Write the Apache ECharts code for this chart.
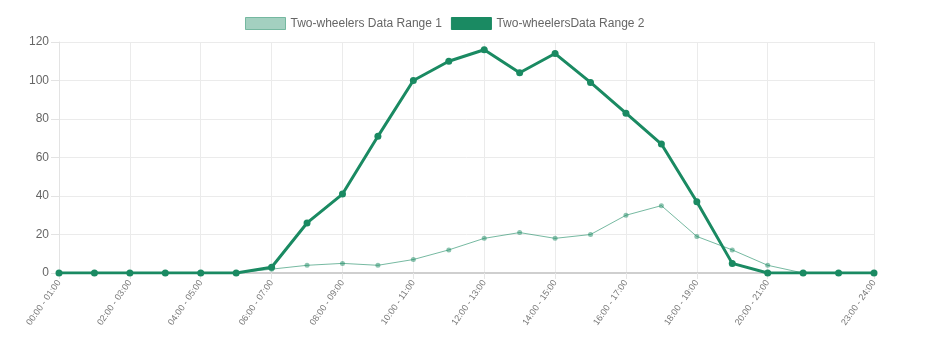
<!DOCTYPE html>
<html><head><meta charset="utf-8">
<script src="https://cdn.jsdelivr.net/npm/echarts@6/dist/echarts.min.js"></script>
<style>html,body{margin:0;padding:0;background:#fff}#c{width:929px;height:343px}</style>
</head><body><div id="c"></div>
<script>
const categories = ["00:00 - 01:00","01:00 - 02:00","02:00 - 03:00","03:00 - 04:00","04:00 - 05:00","05:00 - 06:00","06:00 - 07:00","07:00 - 08:00","08:00 - 09:00","09:00 - 10:00","10:00 - 11:00","11:00 - 12:00","12:00 - 13:00","13:00 - 14:00","14:00 - 15:00","15:00 - 16:00","16:00 - 17:00","17:00 - 18:00","18:00 - 19:00","19:00 - 20:00","20:00 - 21:00","21:00 - 22:00","22:00 - 23:00","23:00 - 24:00"];
const range1 = [0,0,0,0,0,0,2,4,5,4,7,12,18,21,18,20,30,35,19,12,4,0,0,0];
const range2 = [0,0,0,0,0,0,3,26,41,71,100,110,116,104,114,99,83,67,37,5,0,0,0,0];
const seriesNames = ["Two-wheelers Data Range 1","Two-wheelersData Range 2"];
const showTick = (i) => (i % 2 === 0 && i <= 20) || i === 23;
const font = "'Liberation Sans', Arial, sans-serif";
const chart = echarts.init(document.getElementById('c'));
chart.setOption({
  animation: false,
  textStyle: {fontFamily: font},
  legend: {
    top: 12, left: 240, itemWidth: 40, itemHeight: 12, itemGap: 9,
    textStyle: {color: '#666', fontSize: 12, fontFamily: font},
    data: [
      {name: seriesNames[0], icon: 'rect', itemStyle: {color: 'rgba(26,138,98,0.4)', borderColor: 'rgba(26,138,98,0.5)', borderWidth: 1}},
      {name: seriesNames[1], icon: 'rect', itemStyle: {color: '#1a8a62', borderColor: '#1a8a62', borderWidth: 1}}
    ]
  },
  grid: {left: 59, right: 55, top: 42, bottom: 70},
  xAxis: {
    type: 'category', data: categories, boundaryGap: false,
    axisLine: {lineStyle: {color: '#cfcfcf', width: 2}},
    axisTick: {show: true, interval: (i) => showTick(i), length: 6, lineStyle: {color: '#e6e6e6'}},
    splitLine: {show: true, interval: (i) => showTick(i), lineStyle: {color: '#ebebeb'}},
    axisLabel: {interval: (i) => showTick(i), rotate: 55, fontSize: 9, color: '#777', fontFamily: font, margin: 8}
  },
  yAxis: {
    type: 'value', min: 0, max: 120, interval: 20,
    axisLine: {show: true, lineStyle: {color: '#e3e3e3'}},
    axisTick: {show: true, length: 8, lineStyle: {color: '#e3e3e3'}},
    splitLine: {lineStyle: {color: '#ebebeb'}},
    axisLabel: {fontSize: 12, color: '#666', fontFamily: font, margin: 10}
  },
  series: [
    {name: seriesNames[0], type: 'line', data: range1, z: 2,
     symbol: 'circle', symbolSize: 5,
     lineStyle: {width: 1, color: 'rgba(26,138,98,0.6)'},
     itemStyle: {color: 'rgba(26,138,98,0.5)'}},
    {name: seriesNames[1], type: 'line', data: range2, z: 3,
     symbol: 'circle', symbolSize: 7,
     lineStyle: {width: 3, color: '#1a8a62'},
     itemStyle: {color: '#1a8a62'}}
  ]
});
</script></body></html>
